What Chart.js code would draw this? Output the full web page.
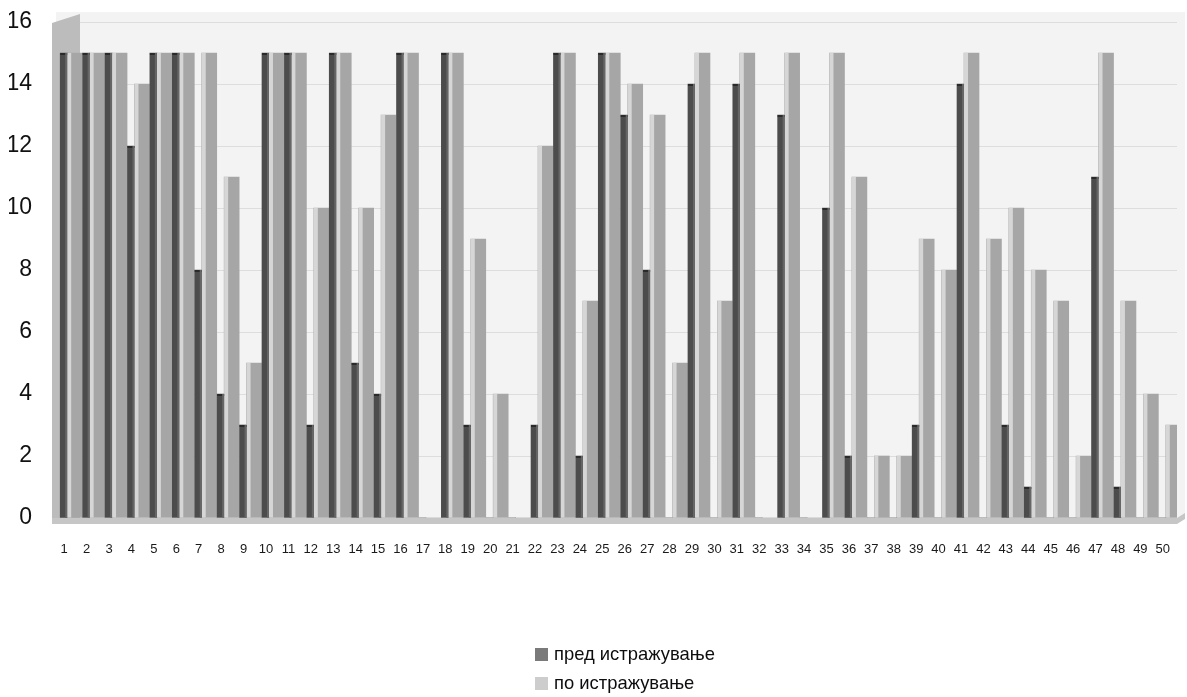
<!DOCTYPE html>
<html>
<head>
<meta charset="utf-8">
<script src="https://cdn.jsdelivr.net/npm/chart.js@4/dist/chart.umd.min.js"></script>
<style>
  html, body { margin: 0; padding: 0; background: #ffffff; }
  #wrap { position: relative; width: 1187px; height: 697px; }
  #c { position: absolute; left: 0; top: 0; }
  #legend {
    position: absolute; left: 535px; top: 640px;
    font-family: "Liberation Sans", Arial, sans-serif; font-size: 18.4px; color: #0d0d0d;
  }
  #legend div { height: 28.5px; line-height: 28.5px; white-space: nowrap; }
  #legend span.box { display: inline-block; width: 13px; height: 13px; margin-right: 6px; vertical-align: -1px; }
</style>
</head>
<body>
<div id="wrap">
  <canvas id="c" width="1187" height="697"></canvas>
  <div id="legend"></div>
</div>
<script>
// Respondents 1..50, scores before and after the study
const categories = Array.from({ length: 50 }, (_, i) => String(i + 1));
const seriesNames = ['пред истражување', 'по истражување'];
const before = [15, 15, 15, 12, 15, 15, 8, 4, 3, 15,
                15, 3, 15, 5, 4, 15, 0, 15, 3, 0,
                0, 3, 15, 2, 15, 13, 8, 0, 14, 0,
                14, 0, 13, 0, 10, 2, 0, 0, 3, 0,
                14, 0, 3, 1, 0, 0, 11, 1, 0, 0];
const after = [15, 15, 15, 14, 15, 15, 15, 11, 5, 15,
               15, 10, 15, 10, 13, 15, 0, 15, 9, 4,
               0, 12, 15, 7, 15, 14, 13, 5, 15, 7,
               15, 0, 15, 0, 15, 11, 2, 2, 9, 8,
               15, 9, 10, 8, 7, 2, 15, 7, 4, 3];
const yTicks = [0, 2, 4, 6, 8, 10, 12, 14, 16];

const darkColor = '#4c4c4c';
const lightColor = '#a6a6a6';
const lightEdge = '#d6d6d6';

// back wall, left wall and floor of the plot
const plotBackdrop = {
  id: 'plotBackdrop',
  beforeDraw(chart) {
    const { ctx, chartArea: a } = chart;
    ctx.save();
    ctx.fillStyle = '#f3f3f3';
    ctx.fillRect(a.left, a.top - 10, a.right - a.left + 8, a.bottom - a.top + 10);
    ctx.restore();
  },
  beforeDatasetsDraw(chart) {
    const { ctx, chartArea: a, scales: { y } } = chart;
    const base = y.getPixelForValue(0);
    ctx.save();
    ctx.fillStyle = '#bcbcbc';
    ctx.beginPath();
    ctx.moveTo(a.left - 4, base);
    ctx.lineTo(a.left - 4, a.top + 1);
    ctx.lineTo(a.left + 24, a.top - 8);
    ctx.lineTo(a.left + 24, base);
    ctx.closePath();
    ctx.fill();
    ctx.fillStyle = '#c6c6c6';
    ctx.beginPath();
    ctx.moveTo(a.left - 4, base);
    ctx.lineTo(a.right, base);
    ctx.lineTo(a.right + 8, base - 5);
    ctx.lineTo(a.right + 8, base + 1);
    ctx.lineTo(a.right, base + 6);
    ctx.lineTo(a.left - 4, base + 6);
    ctx.closePath();
    ctx.fill();
    ctx.restore();
  }
};

// lit front edge on the lighter bars and a dark cap on the darker ones
const barShading = {
  id: 'barShading',
  afterDatasetsDraw(chart) {
    const { ctx } = chart;
    ctx.save();
    chart.getDatasetMeta(1).data.forEach(el => {
      const h = el.base - el.y;
      if (h <= 0) return;
      const left = el.x - el.width / 2;
      ctx.fillStyle = lightEdge;
      ctx.fillRect(left, el.y, 4, h);
    });
    chart.getDatasetMeta(0).data.forEach(el => {
      const h = el.base - el.y;
      if (h <= 0) return;
      const left = el.x - el.width / 2;
      ctx.fillStyle = '#2a2a2a';
      ctx.fillRect(left, el.y, el.width, 2);
      ctx.fillStyle = '#666666';
      ctx.fillRect(left + el.width - 2, el.y, 2, h);
    });
    ctx.restore();
  }
};

new Chart(document.getElementById('c'), {
  type: 'bar',
  data: {
    labels: categories,
    datasets: [
      { label: seriesNames[0], data: before, backgroundColor: darkColor, barThickness: 7 },
      { label: seriesNames[1], data: after, backgroundColor: lightColor, barThickness: 15 }
    ]
  },
  options: {
    responsive: false,
    animation: false,
    events: [],
    layout: { padding: { left: 9, right: 10, top: 22, bottom: 139 } },
    datasets: { bar: { categoryPercentage: 0.9, barPercentage: 1 } },
    plugins: { legend: { display: false }, tooltip: { enabled: false } },
    scales: {
      x: {
        afterFit(scale) { scale.height = 40; scale.paddingLeft = 0; scale.paddingRight = 0; },
        grid: { display: false, drawTicks: false },
        border: { display: false },
        ticks: {
          font: { family: 'Liberation Sans', size: 13 },
          color: '#1a1a1a',
          padding: 24,
          labelOffset: -3,
          maxRotation: 0,
          autoSkip: false
        }
      },
      y: {
        min: 0,
        max: 16,
        afterBuildTicks(scale) { scale.ticks = yTicks.map(v => ({ value: v })); },
        afterFit(scale) { scale.width = 47; scale.paddingTop = 0; scale.paddingBottom = 0; },
        grid: { color: 'rgba(0,0,0,0.09)', drawTicks: false },
        border: { display: false },
        ticks: {
          font: { family: 'Liberation Sans', size: 23 },
          color: '#111111',
          padding: 24
        }
      }
    }
  },
  plugins: [plotBackdrop, barShading]
});

// legend stacked under the plot
const legend = document.getElementById('legend');
[[seriesNames[0], '#7a7a7a'], [seriesNames[1], '#cdcdcd']].forEach(([name, col]) => {
  const row = document.createElement('div');
  const box = document.createElement('span');
  box.className = 'box';
  box.style.background = col;
  row.appendChild(box);
  row.appendChild(document.createTextNode(name));
  legend.appendChild(row);
});
</script>
</body>
</html>
